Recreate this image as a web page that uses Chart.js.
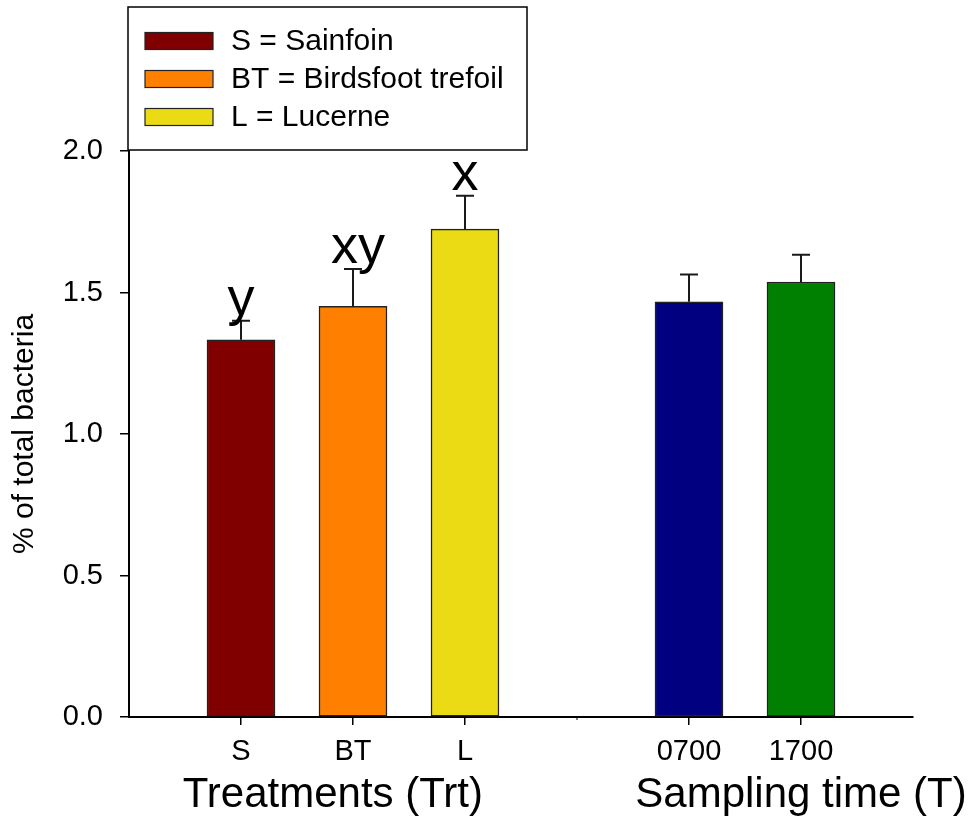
<!DOCTYPE html>
<html>
<head>
<meta charset="utf-8">
<script src="https://cdn.jsdelivr.net/npm/chart.js@4"></script>
<style>
    body { margin: 0; background: #fff; }
    #wrap { width: 970px; height: 818px; }
</style>
</head>
<body>
<div id="wrap"><canvas id="bacteriaChart"></canvas></div>
<script>
// Données
const categories = ['S', 'BT', 'L', '0700', '1700'];
const positions = [1, 2, 3, 5, 6]; // place sur l'axe x (4 = espace entre les groupes)
const means = [1.333, 1.451, 1.724, 1.467, 1.537];
const errors = [0.067, 0.132, 0.118, 0.097, 0.096];
const letters = ['y', 'xy', 'x', '', ''];
const barColors = ['#800000', '#FF8000', '#EBDB14', '#000080', '#008000'];
const legendLabels = ['S = Sainfoin', 'BT = Birdsfoot trefoil', 'L = Lucerne'];
const groupTitles = ['Treatments (Trt)', 'Sampling time (T)'];
const yTicks = [0, 0.5, 1.0, 1.5, 2.0];

const FONT = "'Liberation Sans', Arial, sans-serif";

// barres d'erreur + lettres de signification
const errorBarsPlugin = {
    id: 'errorBars',
    afterDatasetsDraw(chart) {
        const ctx = chart.ctx;
        const xs = chart.scales.x, ys = chart.scales.y;
        ctx.save();
        ctx.strokeStyle = '#1a1a1a';
        ctx.lineWidth = 2;
        ctx.fillStyle = '#000';
        ctx.font = '54px ' + FONT;
        ctx.textAlign = 'center';
        ctx.textBaseline = 'alphabetic';
        means.forEach((m, i) => {
            const x = xs.getPixelForValue(positions[i]);
            const y0 = ys.getPixelForValue(m);
            const y1 = ys.getPixelForValue(m + errors[i]);
            ctx.beginPath();
            ctx.moveTo(x, y0);
            ctx.lineTo(x, y1);
            ctx.moveTo(x - 9, y1);
            ctx.lineTo(x + 9, y1);
            ctx.stroke();
            if (letters[i]) ctx.fillText(letters[i], x + (letters[i].length > 1 ? 5 : 0), y1 - 6);
        });
        ctx.restore();
    }
};

// légende encadrée + titres des groupes
const decorPlugin = {
    id: 'decor',
    afterDraw(chart) {
        const ctx = chart.ctx;
        const xs = chart.scales.x;
        ctx.save();
        // petit repère entre les deux groupes
        const gx = xs.getPixelForValue(4);
        ctx.strokeStyle = '#000';
        ctx.lineWidth = 1;
        ctx.beginPath();
        ctx.moveTo(gx, xs.top);
        ctx.lineTo(gx, xs.top + 3);
        ctx.stroke();
        // cadre de la légende
        ctx.fillStyle = '#fff';
        ctx.fillRect(128, 7, 399, 143);
        ctx.lineWidth = 1.5;
        ctx.strokeRect(128, 7, 399, 143);
        ctx.font = '30px ' + FONT;
        ctx.textBaseline = 'middle';
        ctx.textAlign = 'left';
        legendLabels.forEach((lab, i) => {
            const cy = 41 + i * 38;
            ctx.fillStyle = barColors[i];
            ctx.fillRect(145, cy - 8.5, 68, 17);
            ctx.strokeStyle = '#222';
            ctx.lineWidth = 1.2;
            ctx.strokeRect(145, cy - 8.5, 68, 17);
            ctx.fillStyle = '#000';
            ctx.fillText(lab, 231, cy + 1);
        });
        // titres des groupes sous l'axe x
        ctx.font = '42px ' + FONT;
        ctx.textAlign = 'center';
        ctx.textBaseline = 'alphabetic';
        ctx.fillText(groupTitles[0], xs.getPixelForValue(1.82), 807);
        ctx.fillText(groupTitles[1], xs.getPixelForValue(6), 807);
        ctx.restore();
    }
};

document.addEventListener('DOMContentLoaded', function() {
    const ctx = document.getElementById('bacteriaChart').getContext('2d');
    new Chart(ctx, {
        type: 'bar',
        data: {
            datasets: [{
                data: positions.map((p, i) => ({ x: p, y: means[i] })),
                backgroundColor: barColors,
                borderColor: '#222',
                borderWidth: 1.5,
                borderSkipped: false,
                barThickness: 68
            }]
        },
        options: {
            responsive: true,
            maintainAspectRatio: false,
            animation: false,
            layout: {
                padding: { left: 0, right: 57, top: 151, bottom: 0 }
            },
            plugins: {
                legend: { display: false },
                tooltip: { enabled: false }
            },
            scales: {
                x: {
                    type: 'linear',
                    offset: false,
                    min: 0,
                    max: 7,
                    afterBuildTicks: (scale) => {
                        scale.ticks = positions.map(v => ({ value: v }));
                    },
                    afterFit: (scale) => { scale.height = 101; },
                    grid: {
                        offset: false,
                        drawOnChartArea: false,
                        drawTicks: true,
                        tickLength: 8,
                        color: '#000',
                        lineWidth: 1.5
                    },
                    border: { color: '#000', width: 2 },
                    ticks: {
                        color: '#000',
                        padding: 10,
                        maxRotation: 0,
                        autoSkip: false,
                        font: { family: FONT, size: 29 },
                        callback: (v) => categories[positions.indexOf(v)]
                    }
                },
                y: {
                    min: 0,
                    max: 2,
                    afterBuildTicks: (scale) => {
                        scale.ticks = yTicks.map(v => ({ value: v }));
                    },
                    afterFit: (scale) => { scale.width = 129; },
                    grid: {
                        drawOnChartArea: false,
                        drawTicks: true,
                        tickLength: 9,
                        color: '#000',
                        lineWidth: 1.5
                    },
                    border: { color: '#000', width: 2 },
                    ticks: {
                        color: '#000',
                        padding: 17,
                        font: { family: FONT, size: 29 },
                        callback: (v) => v.toFixed(1)
                    },
                    title: {
                        display: true,
                        text: '% of total bacteria',
                        color: '#000',
                        padding: { top: 7, bottom: 0 },
                        font: { family: FONT, size: 30 }
                    }
                }
            }
        },
        plugins: [errorBarsPlugin, decorPlugin]
    });
});
</script>
</body>
</html>
